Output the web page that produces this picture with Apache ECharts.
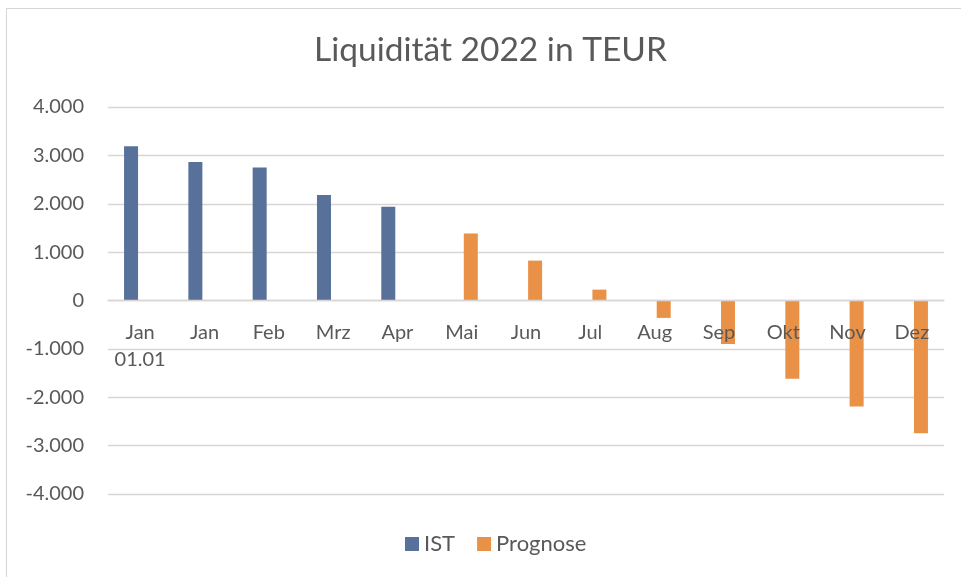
<!DOCTYPE html>
<html>
<head>
<meta charset="utf-8">
<script src="https://cdn.jsdelivr.net/npm/echarts@6/dist/echarts.min.js"></script>
<style>
html,body{margin:0;padding:0;background:#fff;overflow:hidden;}
#frame{position:absolute;left:6px;top:8px;width:1000px;height:1000px;border-left:1.5px solid #D9D5D2;border-top:1.5px solid #D9D5D2;}
#chart{position:absolute;left:0;top:0;width:961px;height:577px;}
</style>
</head>
<body>
<div id="frame"></div>
<div id="chart"></div>
<script>
var categories = ["Jan\n01.01","Jan","Feb","Mrz","Apr","Mai","Jun","Jul","Aug","Sep","Okt","Nov","Dez"];
var istValues = [3190, 2865, 2750, 2180, 1940, null, null, null, null, null, null, null, null];
var prognoseValues = [null, null, null, null, null, 1385, 825, 225, -360, -900, -1615, -2190, -2745];
var yTicks = {min: -4000, max: 4000, interval: 1000};
var seriesNames = ["IST", "Prognose"];
var titleText = "Liquidität 2022 in TEUR";

function fmt(v){
  var s = Math.abs(v).toString();
  s = s.replace(/\B(?=(\d{3})+(?!\d))/g, ".");
  return (v < 0 ? "-" : "") + s;
}

var FONT = "Lato";
var TXT = "#595959";
var GRID = {left: 108, right: 17, top: 107, bottom: 83};
var plotH = 577 - GRID.top - GRID.bottom;
var zeroOffset = -plotH * (0 - yTicks.min) / (yTicks.max - yTicks.min);

var chart = echarts.init(document.getElementById('chart'), null, {renderer:'canvas'});
chart.setOption({
  animation: false,
  backgroundColor: 'transparent',
  title: {
    text: titleText, left: 309, top: 28,
    textStyle: {fontFamily: FONT, fontSize: 33.5, fontWeight: 'normal', color: TXT}
  },
  legend: {
    bottom: 17, left: 400,
    itemWidth: 14, itemHeight: 14, itemGap: 22,
    icon: 'rect',
    textStyle: {fontFamily: FONT, fontSize: 22, color: TXT},
    data: seriesNames
  },
  grid: {left: GRID.left, right: GRID.right, top: GRID.top, bottom: GRID.bottom, containLabel: false},
  xAxis: {
    type: 'category', data: categories, offset: zeroOffset, z: 10,
    axisLine: {onZero: false, lineStyle: {color: '#D9D5D2', width: 1.3}},
    axisTick: {show: false},
    axisLabel: {fontFamily: FONT, fontSize: 20, color: TXT, margin: 19, lineHeight: 27, interval: 0}
  },
  yAxis: {
    type: 'value', min: yTicks.min, max: yTicks.max, interval: yTicks.interval,
    axisLine: {show: false}, axisTick: {show: false},
    splitLine: {lineStyle: {color: '#D9D5D2', width: 1.3}},
    axisLabel: {fontFamily: FONT, fontSize: 20, color: TXT, margin: 24, formatter: fmt}
  },
  series: [
    {name: seriesNames[0], type: 'bar', data: istValues, barWidth: 14, barGap: '30%',
     itemStyle: {color: '#58719A'}},
    {name: seriesNames[1], type: 'bar', data: prognoseValues, barWidth: 14, barGap: '30%',
     itemStyle: {color: '#EA9148'}}
  ]
});
</script>
</body>
</html>
